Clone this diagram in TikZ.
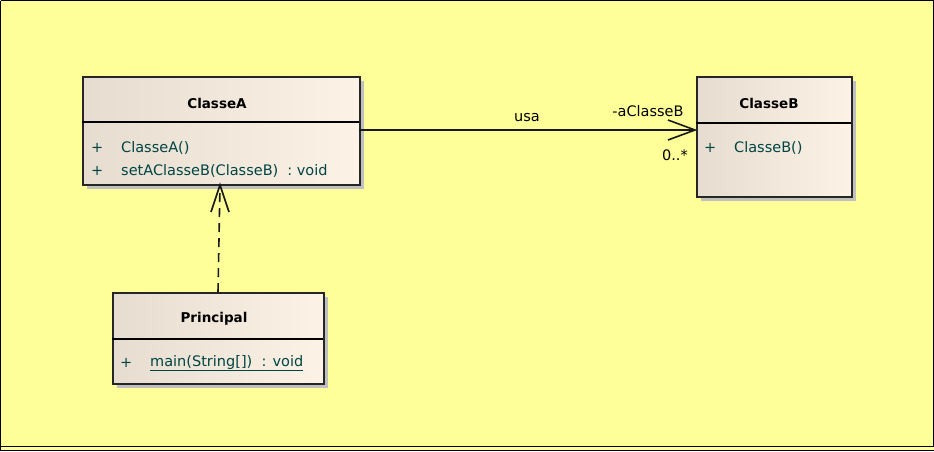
\documentclass[tikz,border=0pt]{standalone}
\usepackage{fontspec}
\setmainfont{DejaVu Sans}
\usetikzlibrary{calc}
\definecolor{bgyellow}{HTML}{FFFF99}
\definecolor{boxleft}{HTML}{E6DDD0}
\definecolor{boxright}{HTML}{FCF3E6}
\definecolor{membertext}{HTML}{004444}
\definecolor{shadowgray}{HTML}{C0C0C0}
\tikzset{
  classbox/.style={draw=black!85, line width=1.8pt, left color=boxleft, right color=boxright, inner sep=0pt},
  cname/.style={font=\bfseries\fontsize{13.5}{16}\selectfont, text=black},
  member/.style={font=\fontsize{14.5}{16}\selectfont, text=membertext, anchor=west, inner sep=0pt},
  lbl/.style={font=\fontsize{14.5}{16}\selectfont, text=black, inner sep=0pt},
  conn/.style={line width=1.6pt, draw=black!90},
  barb/.style={line width=1.6pt, draw=black!90, line join=miter},
}
\begin{document}
\begin{tikzpicture}[x=1pt,y=-1pt]
\useasboundingbox (0,0) rectangle (934,451);
% background and frame
\fill[bgyellow] (0,0) rectangle (934,451);
\draw[line width=1pt] (0.5,0.5) -- (933,0.5) -- (933,446) ;
\draw[line width=1pt] (0.5,0.5) -- (0.5,450.5) -- (934,450.5);
\draw[line width=1pt] (0.5,446) -- (934,446);

% ClasseA
\fill[shadowgray] (87,81) rectangle (364,189);
\node[classbox, minimum width=277pt, minimum height=108pt, anchor=north west] (A) at (82,76) {};
\draw[line width=1.4pt] (82,122) -- (359,122);
\node[cname] (Aname) at (217,103) {ClasseA};
\node[member] (Ap1) at (91,148) {+};
\node[member] (Am1) at (121,148) {ClasseA()};
\node[member] (Ap2) at (91,171) {+};
\node[member] (Am2) at (121,171) {setAClasseB(ClasseB)\hspace{9pt}: void};

% ClasseB
\fill[shadowgray] (701,81) rectangle (856,201);
\node[classbox, minimum width=155pt, minimum height=120pt, anchor=north west] (B) at (696,76) {};
\draw[line width=1.4pt] (696,123) -- (851,123);
\node[cname] (Bname) at (769,103) {ClasseB};
\node[member] (Bp1) at (704,148) {+};
\node[member] (Bm1) at (734,148) {ClasseB()};

% Principal
\fill[shadowgray] (117,297) rectangle (328,388);
\node[classbox, minimum width=211pt, minimum height=91pt, anchor=north west] (P) at (112,292) {};
\draw[line width=1.4pt] (112,339) -- (323,339);
\node[cname] (Pname) at (214,319) {Principal};
\node[member] (Pp1) at (120,363) {+};
\node[member] (Pm1) at (150,363) {\underline{main(String[])\ \ : void}};

% association
\coordinate (As) at (359,130);
\coordinate (Bt) at (695,130);
\draw[conn] (As) -- (Bt);
\draw[barb] ($(Bt)+(-27,-10)$) -- (Bt) -- ($(Bt)+(-27,10)$);
\node[lbl] (usa) at (527,118) {usa};
\node[lbl] (role) at (648,111) {-aClasseB};
\node[lbl, anchor=east] (mult) at (688,155) {0..*};

% dependency
\coordinate (Ps) at (218,292);
\coordinate (At) at (220,185);
\draw[conn, dash pattern=on 9pt off 6pt] (Ps) -- (At);
\draw[barb] ($(At)+(-9,27)$) -- (At) -- ($(At)+(9,27)$);
\end{tikzpicture}
\end{document}
